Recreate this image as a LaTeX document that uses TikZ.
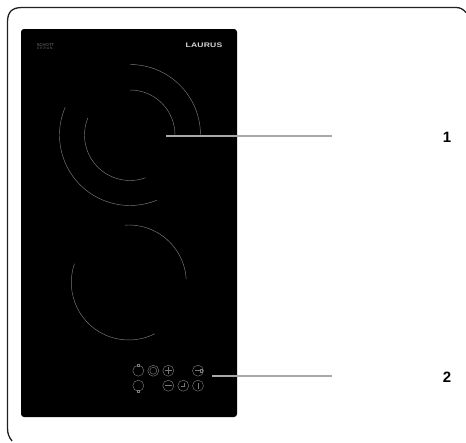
\documentclass[tikz,border=0pt]{standalone}
\usepackage{fontspec}
\setmainfont{Liberation Sans}
\definecolor{ringgrey}{HTML}{787878}
\definecolor{zonegrey}{HTML}{7C7C7C}
\definecolor{leadgrey}{HTML}{A8A8A8}
\definecolor{framegrey}{HTML}{202020}
\tikzset{
  frameline/.style={draw=framegrey,line width=1.3pt},
  plate/.style={fill=black,draw=none,rounded corners=3pt},
  zone/.style={draw=zonegrey,line width=.45pt},
  ring/.style={circle,draw=ringgrey,line width=.45pt,minimum size=11pt,inner sep=0pt,outer sep=0pt},
  glyph/.style={draw=ringgrey,line width=.45pt},
  leader/.style={draw=leadgrey,line width=2pt},
  callout/.style={font=\bfseries\fontsize{15}{15}\selectfont,text=black,inner sep=0pt},
}
\begin{document}
\begin{tikzpicture}[x=1pt,y=-1pt]
\useasboundingbox (0,0) rectangle (466,442);
% frame
\draw[frameline] (12,441) .. controls (9,437) and (7.5,434) .. (7.5,428) -- (7.5,22)
  .. controls (7.5,12) and (12,7.5) .. (22,7.5) -- (456,7.5) .. controls (460,7.5) and (463,9) .. (466,12.5);
% plate
\fill[plate] (21,29) rectangle (237,417);
% zones
\coordinate (za) at (130,135);
\coordinate (zb) at (128.8,282.5);
\draw[zone] ([shift={(-90:70.5)}]za) arc[start angle=-90,end angle=0,radius=70.5];
\draw[zone] ([shift={(203.3:70.5)}]za) arc[start angle=203.3,end angle=67.4,radius=70.5];
\draw[zone] ([shift={(-90:45)}]za) arc[start angle=-90,end angle=0,radius=45];
\draw[zone] ([shift={(202:45.5)}]za) arc[start angle=202,end angle=70,radius=45.5];
\draw[zone] ([shift={(-94:57.5)}]zb) arc[start angle=-94,end angle=-3.5,radius=57.5];
\draw[zone] ([shift={(199:57.5)}]zb) arc[start angle=199,end angle=63,radius=57.5];
% logos
\node[inner sep=0pt,text=ringgrey,font=\fontsize{4.2}{4.2}\selectfont] (schott) at (45.5,44.6) {SCHOTT};
\node[inner sep=0pt,text=ringgrey,font=\fontsize{3.2}{3.2}\selectfont] (ceran) at (45.5,48.8) {C\,\,E\,\,R\,\,A\,\,N\,.};
\node[inner sep=0pt,text=ringgrey!30!white,font=\bfseries\fontsize{6.6}{7}\selectfont] (laurus) at (204,45.6) {\addfontfeature{LetterSpace=3}\addfontfeature{FakeStretch=1.3}LAURUS};
% controls
\node[ring] (on) at (138.3,370.7) {};
\node[ring] (dual) at (153.3,370.7) {};
\node[ring] (plus) at (168.3,370.7) {};
\node[ring] (lock) at (198,370.7) {};
\node[ring] (off) at (138.3,385.7) {};
\node[ring] (minus) at (168.3,385.7) {};
\node[ring] (clock) at (183.3,385.7) {};
\node[ring] (pause) at (198,385.7) {};
\node[circle,draw=ringgrey,line width=.45pt,minimum size=7pt,inner sep=0pt] (dualin) at (dual) {};
\draw[glyph,fill=black] ([xshift=-1.1pt,yshift=-1.1pt]on.north) rectangle ([xshift=1.1pt,yshift=1.1pt]on.north);
\draw[glyph,fill=black] ([xshift=-1.1pt,yshift=-1.1pt]off.south) rectangle ([xshift=1.1pt,yshift=1.1pt]off.south);
\draw[glyph] ([xshift=-3.5pt]plus.center) -- ([xshift=3.5pt]plus.center);
\draw[glyph] ([yshift=-3.5pt]plus.center) -- ([yshift=3.5pt]plus.center);
\draw[glyph] ([xshift=-3.5pt]minus.center) -- ([xshift=3.5pt]minus.center);
\draw[glyph] ([xshift=.8pt,yshift=3pt]clock.center) -- ([xshift=.8pt,yshift=-1pt]clock.center) -- ([xshift=-2.6pt,yshift=-1pt]clock.center);
\draw[glyph,line width=.9pt] ([yshift=-3pt]pause.center) -- ([yshift=3pt]pause.center);
\draw[glyph] ([xshift=-3.5pt]lock.center) -- ([xshift=2.5pt]lock.center);
\draw[glyph] ([xshift=2.5pt,yshift=-1.1pt]lock.center) rectangle ([xshift=4pt,yshift=1.1pt]lock.center);
% callouts
\node[callout] (one) at (447,137.5) {1};
\node[callout] (two) at (447,377) {2};
\coordinate (la) at (166,136);
\coordinate (lb) at (332,136);
\coordinate (lc) at (212,375.5);
\coordinate (ld) at (332,375.5);
\draw[leader] (la) -- (lb);
\draw[leader] (lc) -- (ld);
\end{tikzpicture}
\end{document}
